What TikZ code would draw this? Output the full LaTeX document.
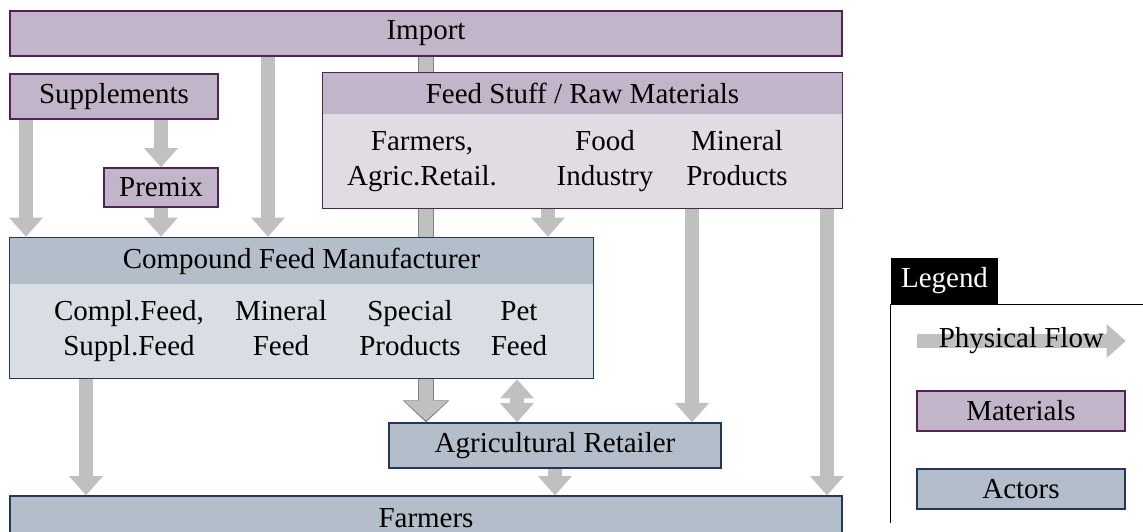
\documentclass[tikz,border=0pt]{standalone}
\usepackage{fontspec}
\setmainfont{Liberation Serif}
\usetikzlibrary{arrows.meta, fit, backgrounds}

\definecolor{matfill}{RGB}{194,181,201}
\definecolor{matlight}{RGB}{225,220,228}
\definecolor{matline}{RGB}{80,35,85}
\definecolor{actfill}{RGB}{180,189,202}
\definecolor{actlight}{RGB}{217,222,229}
\definecolor{actline}{RGB}{35,55,90}
\definecolor{flowgray}{RGB}{192,192,192}
\definecolor{flowedge}{RGB}{128,128,128}

\begin{document}
\begin{tikzpicture}[
    x=0.345pt, y=0.345pt,
    font=\normalsize,
    matbox/.style={
        draw=matline, line width=0.5pt, fill=matfill,
        inner sep=0pt, label=center:#1
    },
    actbox/.style={
        draw=actline, line width=0.5pt, fill=actfill,
        inner sep=0pt, label=center:#1
    },
    headfill/.style={fill=#1, inner sep=0pt},
    frame/.style={draw=#1, line width=0.5pt, inner sep=0pt},
    coltext/.style={align=center, inner sep=0pt},
    flowtip/.tip={Triangle[width=11.7pt, length=6.6pt, line width=0pt]},
    flow/.style={line width=4.8pt, draw=flowgray, -flowtip},
    flowboth/.style={line width=4.8pt, draw=flowgray, flowtip-flowtip},
    keyframe/.style={draw=black, line width=0.5pt}
]
\useasboundingbox (0,0) coordinate (pagetl) rectangle (1143,-531) coordinate (pagebr);

% --- Materials ---
\node[matbox=Import, fit={(10,-11) (842,-56)}] (import) {};
\node[matbox=Supplements, fit={(10,-74) (218,-119)}] (supp) {};
\node[matbox=Premix, fit={(104,-168) (218,-207)}] (premix) {};

\node[headfill=matlight, fit={(323,-114) (842,-208)}] (feedbody) {};
\node[headfill=matfill, fit={(323,-73) (842,-114)},
      label=center:{Feed Stuff / Raw Materials}] (feedhead) {};
\node[frame=matline, fit=(feedhead)(feedbody)] (feed) {};
\node[coltext] (farmcol) at (422,-161) {\strut Farmers,\\\strut Agric.Retail.};
\node[coltext] (foodcol) at (605,-161) {\strut Food\\\strut Industry};
\node[coltext] (minecol) at (737,-161) {\strut Mineral\\\strut Products};

% --- Actors ---
\node[headfill=actlight, fit={(10,-284) (593,-378)}] (cfmbody) {};
\node[headfill=actfill, fit={(10,-238) (593,-284)},
      label=center:{Compound Feed Manufacturer}] (cfmhead) {};
\node[frame=actline, fit=(cfmhead)(cfmbody)] (cfm) {};
\node[coltext] (complcol) at (129,-331) {\strut Compl.Feed,\\\strut Suppl.Feed};
\node[coltext] (minfcol) at (281,-331) {\strut Mineral\\\strut Feed};
\node[coltext] (speccol) at (410,-331) {\strut Special\\\strut Products};
\node[coltext] (petcol) at (519,-331) {\strut Pet\\\strut Feed};

\node[actbox={Agricultural Retailer}, fit={(389,-423) (721,-468)}] (retail) {};
\node[actbox=Farmers, fit={(10,-496) (842,-541)}] (farmers) {};

% --- Lanes for the flows ---
\coordinate (lanesupp) at (26,0);
\coordinate (laneimp) at (268,0);
\coordinate (lanefood) at (548,0);
\coordinate (lanemin) at (692,0);
\coordinate (laneraw) at (827,0);
\coordinate (lanecfm) at (86,0);
\coordinate (lanepet) at (517,0);

% --- Physical flows ---
\begin{scope}[on background layer]
    \draw[flow] (lanesupp |- supp.south) -- (lanesupp |- cfm.north);
    \draw[flow] (premix.north |- supp.south) -- (premix.north);
    \draw[flow] (premix.south) -- (premix.south |- cfm.north);
    \draw[flow] (laneimp |- import.south) -- (laneimp |- cfm.north);

    % import straight through to the retailer
    \draw[line width=5.5pt, draw=flowedge,
          -{Triangle[width=16.2pt, length=7.6pt, line width=0pt]}]
        (import.south) -- (import.south |- retail.north);
    \draw[line width=4.6pt, draw=flowgray, shorten >=0.6pt,
          -{Triangle[width=14.8pt, length=6.7pt, line width=0pt]}]
        (import.south) -- (import.south |- retail.north);

    \draw[flow] (lanefood |- feed.south) -- (lanefood |- cfm.north);
    \draw[flow] (lanemin |- feed.south) -- (lanemin |- retail.north);
    \draw[flow] (laneraw |- feed.south) -- (laneraw |- farmers.north);
    \draw[flow] (lanecfm |- cfm.south) -- (lanecfm |- farmers.north);
    \draw[flowboth] (lanepet |- cfm.south) -- (lanepet |- retail.north);
    \draw[flow] (retail.south) -- (retail.south |- farmers.north);
\end{scope}

% --- Legend ---
\node[fill=black, inner sep=0pt, fit={(891,-258) (998,-304)},
      label={[text=white]center:Legend}] (legend) {};
\draw[keyframe] (legend.south west) ++(0,-218) -- (legend.south west) -- (legend.south west -| pagebr);

\node[matbox=Materials, fit={(917,-391) (1125,-431)}] (matkey) {};
\node[actbox=Actors, fit={(917,-469) (1125,-509)}] (actkey) {};
\coordinate (flowkey) at (917,-341);
\draw[flow] (flowkey) -- (flowkey -| matkey.east) node[midway] (flowlabel) {Physical Flow};

\end{tikzpicture}
\end{document}
